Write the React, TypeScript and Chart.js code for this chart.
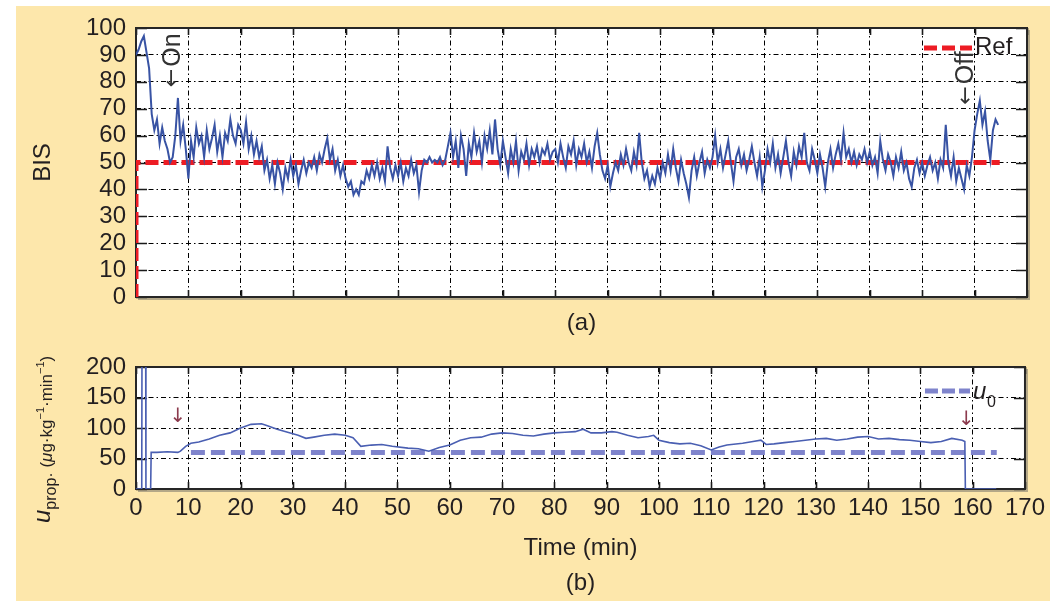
import React, { useEffect, useRef } from "react";
import { Chart, registerables } from "chart.js";

Chart.register(...registerables);

const FONT = "'Liberation Sans', Arial, Helvetica, sans-serif";
const ARROW_FONT = "'DejaVu Sans', 'Liberation Sans', sans-serif";
const INK = "#231f20";
const CREAM = "#fde7ab";
const BIS_BLUE = "#3853a4";
const U_BLUE = "#4a5fb2";
const U0_LILAC = "#7f84cc";
const REF_RED = "#ed1c24";

// ---- BIS (panel a), one sample every 0.5 min ----
const BIS_SAMPLE_MIN = 0.5;
const bisMin000 = [90, 92, 95, 97, 91, 85, 68, 62, 66, 57, 63, 58, 55, 50, 52, 60, 74, 58, 64, 55, 44, 58, 52, 63, 57, 60, 52, 62, 55, 59, 64, 54, 60, 52, 61, 58, 66, 60, 57, 64];
const bisMin020 = [62, 57, 65, 55, 60, 53, 58, 52, 56, 47, 51, 44, 49, 42, 50, 46, 40, 48, 44, 51, 45, 49, 42, 47, 51, 46, 50, 48, 52, 47, 53, 50, 55, 59, 51, 55, 47, 51, 45, 49];
const bisMin040 = [44, 41, 43, 38, 40, 38, 43, 42, 47, 44, 49, 45, 50, 44, 48, 43, 56, 48, 44, 49, 45, 50, 43, 48, 45, 51, 46, 49, 39, 47, 51, 50, 52, 50, 51, 50, 52, 49, 51, 56];
const bisMin060 = [61, 52, 58, 48, 60, 55, 45, 57, 52, 61, 54, 58, 50, 60, 55, 62, 53, 66, 55, 49, 58, 52, 46, 55, 50, 58, 47, 54, 51, 57, 49, 55, 52, 56, 50, 55, 53, 57, 51, 54];
const bisMin080 = [55, 50, 57, 52, 48, 56, 53, 58, 49, 55, 52, 57, 50, 54, 48, 56, 61, 53, 47, 44, 49, 41, 46, 50, 47, 53, 49, 55, 50, 47, 54, 49, 61, 50, 44, 47, 41, 45, 42, 48];
const bisMin100 = [44, 50, 46, 53, 47, 55, 48, 43, 51, 46, 42, 37, 47, 52, 45, 50, 54, 46, 51, 48, 52, 60, 50, 55, 48, 53, 58, 50, 43, 52, 55, 49, 53, 47, 51, 56, 50, 45, 52, 41];
const bisMin120 = [47, 55, 50, 57, 48, 53, 46, 52, 58, 50, 45, 54, 49, 56, 52, 61, 50, 47, 55, 51, 46, 53, 48, 41, 50, 55, 48, 53, 57, 51, 61, 52, 55, 50, 54, 49, 53, 51, 55, 50];
const bisMin140 = [54, 49, 52, 46, 58, 51, 47, 53, 50, 45, 52, 48, 54, 47, 50, 44, 41, 48, 51, 46, 50, 45, 49, 52, 47, 50, 44, 51, 48, 64, 50, 45, 52, 43, 48, 44, 40, 49, 45, 52, 62, 68, 73, 64, 69, 58, 51, 62, 66, 64];

// Reference BIS
const refTime = [0, 0, 164.8];
const refValue = [0, 50, 50];

// ---- Propofol infusion (panel b) ----
const uTime = [0, 1.1, 1.15, 1.85, 1.9, 2.8, 2.9, 4, 6, 8, 8.5, 9.5, 10.5, 12, 14, 16, 18, 20, 22, 24, 25, 27, 29, 31, 32.5, 34, 36, 38, 40, 41.5, 43, 45, 47, 49, 52, 54, 56, 58, 60, 62, 64, 66, 68, 70, 72, 74, 76, 78, 80, 82, 84, 85.5, 87, 89, 91, 92, 94, 96, 98, 99, 100, 102, 104, 106, 108, 110, 111.5, 113, 116, 118, 119.5, 120.5, 122, 124, 126, 128, 130, 132, 134, 136, 138, 140, 142, 144, 146, 148, 150, 152, 154, 156, 158, 158.5, 158.6, 164.5];
const uValue = [0, 0, 250, 250, 0, 0, 60, 60, 61, 60, 62, 70, 75, 77, 82, 88, 92, 100, 106, 107, 104, 98, 93, 88, 83, 85, 88, 90, 88, 84, 70, 72, 73, 70, 67, 66, 62, 68, 72, 80, 84, 85, 90, 92, 91, 88, 87, 90, 92, 93, 94, 98, 92, 92, 94, 93, 88, 84, 86, 88, 80, 76, 74, 75, 71, 64, 69, 72, 75, 78, 80, 73, 74, 76, 78, 80, 82, 83, 80, 82, 85, 86, 82, 83, 81, 80, 78, 76, 78, 83, 80, 78, 0, 0];
const u0Time = [10.5, 164.6];
const u0Value = [60, 60];

// Axes
const TIME_MIN = 0, TIME_MAX = 170, TIME_STEP = 10;
const BIS_MIN = 0, BIS_MAX = 100, BIS_STEP = 10;
const U_MIN = 0, U_MAX = 200, U_STEP = 50;

// Annotations
const ON_TIME = 7.0, ON_LEVEL = 78;
const OFF_TIME = 158.4, OFF_LEVEL = 71.5;
const U_ARROWS = [{ t: 8, v: 118 }, { t: 158.8, v: 114 }];

const bisValues = [...bisMin000, ...bisMin020, ...bisMin040, ...bisMin060, ...bisMin080, ...bisMin100, ...bisMin120, ...bisMin140];
const zip = (xs: number[], ys: number[]) => xs.map((x, i) => ({ x, y: ys[i] }));

const GRID_DASH = [5, 3, 1.5, 3];

function frameAndTicks(xLen: number, yLen: number) {
  return {
    id: "frameAndTicks",
    beforeDraw(chart: any) {
      const { ctx, chartArea: a } = chart;
      ctx.save();
      ctx.fillStyle = "#ffffff";
      ctx.fillRect(a.left, a.top, a.right - a.left, a.bottom - a.top);
      ctx.restore();
    },
    beforeDatasetsDraw(chart: any) {
      const { ctx, chartArea: a, scales } = chart;
      const xs = scales.x, ys = scales.y;
      ctx.save();
      ctx.setLineDash([]);
      ctx.strokeStyle = "#1a1a1a";
      ctx.lineWidth = 1.6;
      ctx.beginPath();
      xs.ticks.forEach((t: any) => {
        const px = Math.round(xs.getPixelForValue(t.value)) + 0.5;
        ctx.moveTo(px, a.bottom); ctx.lineTo(px, a.bottom - xLen);
        ctx.moveTo(px, a.top); ctx.lineTo(px, a.top + xLen);
      });
      ys.ticks.forEach((t: any) => {
        const py = Math.round(ys.getPixelForValue(t.value)) + 0.5;
        ctx.moveTo(a.left, py); ctx.lineTo(a.left + yLen, py);
        ctx.moveTo(a.right, py); ctx.lineTo(a.right - yLen, py);
      });
      ctx.stroke();
      // soft shadow right / bottom
      ctx.strokeStyle = "rgba(90,90,90,0.45)";
      ctx.lineWidth = 2;
      ctx.beginPath();
      ctx.moveTo(a.right + 2, a.top + 2); ctx.lineTo(a.right + 2, a.bottom + 2); ctx.lineTo(a.left + 2, a.bottom + 2);
      ctx.stroke();
      ctx.strokeStyle = "#262626";
      ctx.lineWidth = 2;
      ctx.strokeRect(a.left, a.top, a.right - a.left, a.bottom - a.top);
      ctx.restore();
    },
  };
}

function rotatedText(ctx: CanvasRenderingContext2D, text: string, x: number, y: number, align: CanvasTextAlign, baseline: CanvasTextBaseline) {
  ctx.save();
  ctx.translate(x, y);
  ctx.rotate(-Math.PI / 2);
  ctx.textAlign = align;
  ctx.textBaseline = baseline;
  ctx.fillText(text, 0, 0);
  ctx.restore();
}

// rotated "<- label" : arrow glyph from a font with a long-shafted arrow, then the word
function rotatedArrowLabel(ctx: CanvasRenderingContext2D, word: string, x: number, y: number) {
  ctx.save();
  ctx.translate(x, y);
  ctx.rotate(-Math.PI / 2);
  ctx.textAlign = "left";
  ctx.textBaseline = "middle";
  ctx.font = `22px ${ARROW_FONT}`;
  ctx.fillText("\u2190", 0, 0);
  const w = ctx.measureText("\u2190").width;
  ctx.font = `25px ${FONT}`;
  ctx.fillText(word, w + 2, 0);
  ctx.restore();
}

const topDecor = {
  id: "topDecor",
  afterDraw(chart: any) {
    const { ctx, chartArea: a, scales } = chart;
    const xs = scales.x, ys = scales.y;
    ctx.save();
    ctx.fillStyle = INK;
    ctx.font = `24px ${FONT}`;
    rotatedText(ctx, "BIS", a.left - 86, (a.top + a.bottom) / 2, "center", "alphabetic");
    ctx.textAlign = "center";
    ctx.textBaseline = "middle";
    ctx.fillText("(a)", (a.left + a.right) / 2, a.bottom + 26);
    ctx.fillStyle = "#333333";
    rotatedArrowLabel(ctx, "On", xs.getPixelForValue(ON_TIME), ys.getPixelForValue(ON_LEVEL));
    rotatedArrowLabel(ctx, "Off", xs.getPixelForValue(OFF_TIME), ys.getPixelForValue(OFF_LEVEL));
    // legend
    ctx.font = `24px ${FONT}`;
    const ly = a.top + 20;
    ctx.strokeStyle = REF_RED;
    ctx.lineWidth = 5;
    ctx.setLineDash([13, 5]);
    ctx.beginPath();
    ctx.moveTo(a.right - 103, ly);
    ctx.lineTo(a.right - 55, ly);
    ctx.stroke();
    ctx.setLineDash([]);
    ctx.fillStyle = INK;
    ctx.textAlign = "left";
    ctx.textBaseline = "middle";
    ctx.fillText("Ref", a.right - 52, ly - 1);
    ctx.restore();
  },
};

type Part = { t: string; f: string; dy: number };
const uLabelParts: Part[] = [
  { t: "u", f: `italic 24px ${FONT}`, dy: 0 },
  { t: "prop\u00b7", f: `16px ${FONT}`, dy: 6 },
  { t: " (", f: `17px ${FONT}`, dy: 2 },
  { t: "\u03bc", f: `italic 17px ${FONT}`, dy: 2 },
  { t: "g\u00b7kg", f: `17px ${FONT}`, dy: 2 },
  { t: "\u22121", f: `11px ${FONT}`, dy: -6 },
  { t: "\u00b7min", f: `17px ${FONT}`, dy: 2 },
  { t: "\u22121", f: `11px ${FONT}`, dy: -6 },
  { t: ")", f: `17px ${FONT}`, dy: 2 },
];

const bottomDecor = {
  id: "bottomDecor",
  afterDraw(chart: any) {
    const { ctx, chartArea: a, scales } = chart;
    const xs = scales.x, ys = scales.y;
    ctx.save();
    ctx.fillStyle = INK;
    // y-axis title (rotated rich text)
    ctx.save();
    ctx.translate(a.left - 86, a.bottom + 34);
    ctx.rotate(-Math.PI / 2);
    ctx.textAlign = "left";
    ctx.textBaseline = "alphabetic";
    let sx = 0;
    uLabelParts.forEach((p) => {
      ctx.font = p.f;
      ctx.fillText(p.t, sx, p.dy);
      sx += ctx.measureText(p.t).width;
    });
    ctx.restore();
    // x title and caption
    ctx.font = `24px ${FONT}`;
    ctx.textAlign = "center";
    ctx.textBaseline = "middle";
    ctx.fillText("Time (min)", (a.left + a.right) / 2, a.bottom + 59);
    ctx.fillText("(b)", (a.left + a.right) / 2, a.bottom + 94);
    // arrows
    ctx.fillStyle = "#8c3b4e";
    ctx.font = `20px ${ARROW_FONT}`;
    U_ARROWS.forEach((p) => {
      ctx.fillText("\u2193", xs.getPixelForValue(p.t), ys.getPixelForValue(p.v));
    });
    // legend u0
    const ly = a.top + 24;
    ctx.strokeStyle = U0_LILAC;
    ctx.lineWidth = 5;
    ctx.setLineDash([13, 4]);
    ctx.beginPath();
    ctx.moveTo(a.right - 100, ly);
    ctx.lineTo(a.right - 55, ly);
    ctx.stroke();
    ctx.setLineDash([]);
    ctx.fillStyle = INK;
    ctx.textAlign = "left";
    ctx.textBaseline = "alphabetic";
    ctx.font = `italic 24px ${FONT}`;
    ctx.fillText("u", a.right - 52, ly + 8);
    ctx.font = `16px ${FONT}`;
    ctx.fillText("0", a.right - 38, ly + 16);
    ctx.restore();
  },
};

function gridOpts() {
  return { color: "#000000", lineWidth: 1, drawTicks: false, tickLength: 0 };
}
function borderOpts() {
  return { display: false, dash: GRID_DASH };
}

export default function App() {
  const topRef = useRef<HTMLCanvasElement>(null);
  const botRef = useRef<HTMLCanvasElement>(null);

  useEffect(() => {
    Chart.defaults.font.family = FONT;
    const tickFont = { size: 24, family: FONT };

    const c1 = new Chart(topRef.current as HTMLCanvasElement, {
      type: "line",
      data: {
        datasets: [
          {
            label: "BIS",
            data: bisValues.map((v, i) => ({ x: i * BIS_SAMPLE_MIN, y: v })),
            borderColor: BIS_BLUE,
            borderWidth: 2,
            pointRadius: 0,
            tension: 0,
            fill: false,
          },
          {
            label: "Ref",
            data: zip(refTime, refValue),
            borderColor: REF_RED,
            borderWidth: 5,
            borderDash: [13, 5],
            pointRadius: 0,
            tension: 0,
            fill: false,
          },
        ],
      },
      options: {
        responsive: false,
        animation: false,
        parsing: true,
        layout: { padding: { top: 28, right: 23, left: 0, bottom: 0 } },
        plugins: { legend: { display: false }, tooltip: { enabled: false } },
        scales: {
          x: {
            type: "linear",
            min: TIME_MIN,
            max: TIME_MAX,
            ticks: { display: false, stepSize: TIME_STEP, autoSkip: false },
            grid: gridOpts(),
            border: borderOpts(),
            afterFit: (s: any) => { s.height = 43; },
          },
          y: {
            type: "linear",
            min: BIS_MIN,
            max: BIS_MAX,
            ticks: { stepSize: BIS_STEP, autoSkip: false, padding: 10, color: INK, font: tickFont },
            grid: gridOpts(),
            border: borderOpts(),
            afterFit: (s: any) => { s.width = 136; },
          },
        },
      } as any,
      plugins: [frameAndTicks(7, 11), topDecor],
    });

    const c2 = new Chart(botRef.current as HTMLCanvasElement, {
      type: "line",
      data: {
        datasets: [
          {
            label: "u_prop",
            data: zip(uTime, uValue),
            borderColor: U_BLUE,
            borderWidth: 1.6,
            pointRadius: 0,
            tension: 0,
            fill: false,
          },
          {
            label: "u0",
            data: zip(u0Time, u0Value),
            borderColor: U0_LILAC,
            borderWidth: 5,
            borderDash: [14, 6],
            pointRadius: 0,
            tension: 0,
            fill: false,
          },
        ],
      },
      options: {
        responsive: false,
        animation: false,
        layout: { padding: { top: 27, right: 23, left: 0, bottom: 0 } },
        plugins: { legend: { display: false }, tooltip: { enabled: false } },
        scales: {
          x: {
            type: "linear",
            min: TIME_MIN,
            max: TIME_MAX,
            ticks: { stepSize: TIME_STEP, autoSkip: false, maxRotation: 0, minRotation: 0, padding: 5, color: INK, font: tickFont },
            grid: gridOpts(),
            border: borderOpts(),
            afterFit: (s: any) => { s.height = 112; },
          },
          y: {
            type: "linear",
            min: U_MIN,
            max: U_MAX,
            ticks: { stepSize: U_STEP, autoSkip: false, padding: 10, color: INK, font: tickFont },
            grid: gridOpts(),
            border: borderOpts(),
            afterFit: (s: any) => { s.width = 136; },
          },
        },
      } as any,
      plugins: [frameAndTicks(7, 11), bottomDecor],
    });

    return () => {
      c1.destroy();
      c2.destroy();
    };
  }, []);

  return (
    <div style={{ position: "fixed", left: 0, top: 0, width: 1050, height: 601, background: "#ffffff", overflow: "hidden" }}>
      <div style={{ position: "absolute", left: 16, top: 6, width: 1034, height: 595, background: CREAM }} />
      <canvas ref={topRef} width={1050} height={340} style={{ position: "absolute", left: 0, top: 0, width: 1050, height: 340 }} />
      <canvas ref={botRef} width={1050} height={261} style={{ position: "absolute", left: 0, top: 340, width: 1050, height: 261 }} />
    </div>
  );
}
